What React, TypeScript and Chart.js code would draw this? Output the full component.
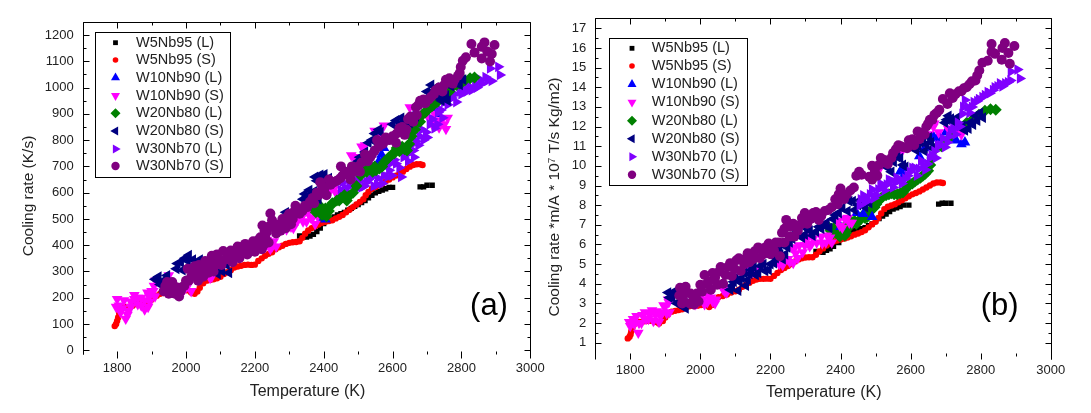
import React, { useEffect, useRef } from "react";
import { Chart, registerables } from "chart.js";
import { drawPoint } from "chart.js/helpers";

Chart.register(...registerables);

type P = [number, number];

const seriesNames = ["W5Nb95 (L)", "W5Nb95 (S)", "W10Nb90 (L)", "W10Nb90 (S)", "W20Nb80 (L)", "W20Nb80 (S)", "W30Nb70 (L)", "W30Nb70 (S)"];
const seriesColors = ["#000000", "#ff0000", "#0000ff", "#ff00ff", "#008000", "#000080", "#8000ff", "#800080"];
const seriesStyles = ["rect", "circle", "triangle", "triangle", "rectRot", "triangle", "triangle", "circle"];
const seriesRotations = [0, 0, 0, 180, 0, 270, 90, 0];
const seriesRadii = [3.8, 3.2, 6.2, 6.2, 6, 6.2, 6.2, 5];
const legendRadii = [3.4, 2.8, 5.2, 5.2, 5, 5.2, 5.2, 4.2];

const xTickValues = [1800, 2000, 2200, 2400, 2600, 2800, 3000];
const yTicksA = [0, 100, 200, 300, 400, 500, 600, 700, 800, 900, 1000, 1100, 1200];
const yTicksB = [1, 2, 3, 4, 5, 6, 7, 8, 9, 10, 11, 12, 13, 14, 15, 16, 17];

// Panel (a): cooling rate (K/s)
const aW5L: P[] = [[2330,435],[2340,432],[2350,431],[2360,435],[2370,441],[2380,452],[2390,465],[2400,482],[2410,492],[2420,500],[2430,508],[2440,515],[2450,520],[2460,525],[2470,533],[2480,540],[2490,548],[2500,555],[2510,562],[2520,570],[2530,580],[2540,590],[2550,599],[2560,605],[2570,610],[2580,615],[2590,620],[2600,620],[2680,622],[2690,622],[2700,628],[2715,628]];
const aW5S: P[] = [[1793,92],[1797,100],[1800,112],[1803,125],[1806,140],[1809,152],[1815,163],[1825,165],[1835,166],[1845,170],[1855,178],[1865,180],[1875,175],[1885,168],[1892,175],[1898,190],[1905,200],[1915,208],[1925,215],[1935,218],[1945,220],[1955,224],[1965,226],[1975,230],[1985,234],[1995,232],[2005,228],[2015,220],[2025,215],[2033,224],[2040,238],[2050,255],[2060,265],[2070,268],[2080,270],[2090,274],[2100,280],[2110,290],[2120,297],[2130,305],[2140,315],[2150,319],[2160,322],[2170,325],[2180,326],[2190,325],[2200,326],[2210,340],[2220,350],[2230,360],[2240,367],[2250,373],[2260,385],[2270,392],[2280,398],[2290,405],[2300,409],[2310,411],[2320,412],[2330,415],[2338,428],[2346,444],[2355,456],[2365,465],[2375,472],[2385,479],[2395,485],[2405,489],[2415,492],[2425,495],[2435,502],[2445,508],[2455,515],[2465,525],[2475,535],[2485,545],[2495,555],[2505,565],[2515,575],[2522,590],[2530,603],[2540,615],[2550,622],[2560,628],[2570,635],[2580,643],[2590,650],[2600,658],[2610,665],[2620,672],[2630,680],[2640,690],[2650,699],[2660,705],[2670,708],[2680,708],[2687,705]];
const aW10L: P[] = [[2395,505],[2405,498],[2560,720],[2570,720],[2568,745],[2575,770],[2568,700],[2640,850],[2650,870],[2660,890],[2723,915],[2730,900],[2651,870]];
const aW10S: P[] = [[1797,165],[1800,195],[1805,170],[1810,145],[1815,160],[1820,190],[1825,120],[1830,135],[1832,150],[1840,185],[1840,165],[1850,195],[1850,210],[1860,200],[1860,175],[1870,170],[1870,200],[1880,190],[1880,155],[1888,220],[1890,165],[1893,205],[1895,185],[1900,225],[1905,225],[1907,245],[1910,205],[1912,265],[1950,285],[1995,232],[2000,240],[2005,245],[2015,225],[2060,300],[2065,290],[2070,275],[2075,280],[2144,350],[2225,400],[2230,395],[2235,420],[2240,400],[2245,385],[2250,395],[2255,415],[2262,395],[2290,480],[2292,460],[2300,495],[2305,470],[2312,465],[2318,490],[2325,495],[2340,515],[2340,490],[2350,490],[2355,525],[2362,505],[2368,505],[2375,480],[2382,510],[2410,600],[2420,610],[2430,615],[2435,600],[2445,595],[2480,742],[2488,735],[2510,775],[2520,780],[2548,835],[2560,820],[2575,855],[2650,925],[2660,880],[2694,905],[2700,920],[2705,885],[2712,885],[2715,860],[2722,900],[2725,875],[2735,848],[2740,870],[2750,860],[2755,842],[2760,885]];
const aW20L: P[] = [[2372,540],[2377,525],[2382,532],[2392,545],[2395,515],[2400,520],[2405,540],[2408,510],[2415,530],[2420,550],[2425,560],[2438,570],[2445,570],[2450,580],[2460,590],[2467,570],[2472,585],[2485,600],[2495,625],[2507,665],[2512,680],[2520,695],[2525,680],[2532,705],[2542,680],[2548,700],[2552,685],[2562,692],[2570,700],[2575,715],[2582,725],[2590,735],[2598,745],[2605,750],[2612,770],[2620,758],[2628,775],[2635,765],[2642,760],[2648,785],[2655,815],[2660,860],[2665,840],[2675,870],[2680,870],[2685,895],[2695,905],[2700,915],[2710,925],[2715,930],[2722,940],[2730,945],[2738,960],[2745,965],[2757,1000],[2765,985],[2775,1005],[2785,1010],[2795,1015],[2802,1020],[2810,1028],[2825,1035],[2838,1038]];
const aW20S: P[] = [[1910,270],[1918,265],[1920,280],[1925,250],[1930,262],[1945,285],[1972,310],[1975,330],[1985,335],[1990,305],[1997,350],[2005,340],[2008,362],[2020,345],[2020,310],[2032,320],[2040,345],[2062,330],[2075,345],[2092,290],[2100,310],[2105,300],[2118,325],[2125,295],[2132,345],[2160,375],[2250,465],[2290,525],[2340,575],[2345,595],[2352,585],[2358,610],[2365,590],[2372,605],[2385,575],[2375,660],[2380,645],[2390,668],[2395,650],[2402,670],[2408,635],[2415,655],[2422,640],[2500,720],[2505,735],[2520,755],[2530,790],[2540,800],[2548,825],[2560,840],[2565,830],[2575,800],[2585,805],[2600,860],[2610,875],[2615,850],[2625,885],[2630,870],[2640,860],[2650,865],[2660,885],[2668,890],[2700,985],[2708,980],[2712,1010],[2725,1000],[2735,960],[2742,950],[2748,965],[2755,970],[2760,950],[2770,1005],[2782,1020],[2790,1025],[2795,1010],[2805,1030]];
const aW30L: P[] = [[2450,610],[2455,640],[2462,620],[2472,600],[2475,625],[2482,640],[2490,650],[2495,615],[2505,645],[2510,620],[2518,625],[2525,640],[2530,650],[2540,660],[2545,625],[2555,630],[2558,655],[2570,635],[2575,665],[2585,660],[2590,685],[2598,665],[2592,710],[2605,725],[2610,710],[2620,695],[2625,660],[2632,735],[2640,745],[2645,720],[2652,780],[2660,760],[2662,735],[2668,795],[2675,780],[2678,815],[2685,840],[2690,800],[2697,830],[2700,810],[2708,860],[2715,880],[2722,845],[2730,860],[2732,905],[2740,915],[2745,885],[2750,945],[2760,935],[2765,960],[2772,960],[2780,975],[2785,945],[2795,985],[2800,975],[2810,1000],[2815,985],[2822,1005],[2830,990],[2840,1015],[2845,1000],[2855,1030],[2860,1015],[2870,1040],[2875,1025],[2888,1025],[2883,1073],[2907,1079],[2912,1048]];
const aW30S: P[] = [[1935,225],[1940,245],[1945,260],[1950,215],[1955,235],[1960,260],[1968,215],[1972,240],[1980,205],[1985,225],[1988,240],[1995,245],[2000,265],[2005,310],[2008,265],[2015,280],[2018,305],[2025,320],[2030,295],[2035,265],[2038,325],[2045,300],[2050,280],[2056,340],[2060,320],[2065,295],[2070,340],[2075,360],[2080,300],[2085,325],[2090,365],[2098,345],[2103,325],[2108,378],[2113,345],[2120,350],[2125,365],[2130,380],[2135,335],[2140,355],[2145,375],[2150,395],[2155,350],[2160,375],[2165,395],[2172,405],[2178,365],[2185,385],[2190,400],[2195,415],[2200,375],[2205,390],[2210,420],[2216,430],[2220,385],[2225,400],[2228,455],[2230,430],[2235,450],[2240,410],[2240,470],[2222,475],[2245,521],[2250,495],[2252,470],[2262,445],[2265,460],[2272,480],[2275,455],[2280,500],[2285,485],[2290,465],[2295,510],[2300,520],[2305,480],[2310,500],[2312,525],[2318,550],[2325,535],[2330,520],[2338,530],[2345,550],[2352,545],[2360,565],[2368,580],[2372,560],[2380,600],[2385,590],[2390,640],[2395,625],[2402,615],[2408,590],[2415,650],[2420,630],[2430,640],[2438,645],[2448,655],[2450,700],[2455,665],[2462,680],[2470,675],[2478,650],[2482,700],[2490,680],[2500,700],[2505,680],[2510,715],[2520,745],[2528,720],[2535,735],[2540,745],[2548,760],[2555,800],[2560,775],[2572,785],[2580,810],[2590,800],[2600,815],[2610,790],[2612,825],[2620,845],[2628,850],[2635,820],[2640,840],[2645,880],[2652,890],[2660,870],[2668,925],[2670,895],[2676,935],[2680,950],[2690,955],[2695,940],[2705,955],[2712,965],[2720,975],[2725,990],[2735,1000],[2745,985],[2750,1010],[2755,1030],[2765,1035],[2775,1015],[2780,1030],[2790,1045],[2795,1055],[2798,1078],[2804,1102],[2813,1115],[2829,1166],[2838,1133],[2859,1155],[2867,1172],[2875,1137],[2888,1128],[2859,1111],[2883,1099],[2896,1162]];

// Panel (b): cooling rate * m/A * 10^7 T/s Kg/m2
const bW5L: P[] = [[2330,5.65],[2340,5.62],[2350,5.6],[2360,5.7],[2370,5.78],[2380,5.9],[2395,6.1],[2410,6.3],[2420,6.45],[2430,6.6],[2440,6.7],[2450,6.75],[2460,6.8],[2470,6.85],[2480,6.95],[2490,7.05],[2500,7.2],[2510,7.32],[2520,7.45],[2530,7.55],[2540,7.68],[2550,7.8],[2560,7.87],[2570,7.93],[2580,8.0],[2595,8.0],[2680,8.05],[2690,8.1],[2700,8.1],[2715,8.1]];
const bW5S: P[] = [[1793,1.22],[1798,1.3],[1801,1.42],[1803,1.58],[1806,1.75],[1810,1.92],[1816,2.03],[1826,2.05],[1836,2.08],[1846,2.1],[1858,2.12],[1870,2.05],[1882,1.98],[1893,2.1],[1900,2.28],[1908,2.45],[1918,2.58],[1928,2.62],[1938,2.66],[1948,2.7],[1958,2.77],[1968,2.85],[1980,2.87],[1992,2.88],[2002,2.92],[2012,2.92],[2025,2.82],[2033,2.92],[2042,3.15],[2052,3.32],[2064,3.38],[2076,3.45],[2088,3.55],[2100,3.62],[2110,3.7],[2120,3.85],[2130,3.95],[2140,4.05],[2150,4.15],[2160,4.22],[2170,4.25],[2180,4.25],[2190,4.26],[2200,4.25],[2210,4.4],[2220,4.55],[2230,4.7],[2240,4.8],[2250,4.9],[2260,5.0],[2270,5.13],[2280,5.24],[2290,5.3],[2300,5.34],[2310,5.35],[2320,5.35],[2330,5.48],[2340,5.65],[2350,5.8],[2360,5.95],[2370,6.05],[2380,6.15],[2390,6.2],[2400,6.25],[2410,6.3],[2420,6.35],[2430,6.42],[2440,6.5],[2450,6.56],[2460,6.63],[2470,6.72],[2480,6.87],[2490,7.02],[2500,7.15],[2508,7.35],[2516,7.58],[2525,7.8],[2535,7.92],[2545,7.98],[2555,8.05],[2565,8.15],[2575,8.25],[2585,8.35],[2595,8.45],[2605,8.55],[2615,8.62],[2625,8.7],[2635,8.8],[2645,8.9],[2655,9.0],[2665,9.1],[2675,9.15],[2685,9.15],[2692,9.13]];
const bW10L: P[] = [[2400,6.9],[2446,7.6],[2465,7.55],[2490,7.4],[2570,9.7],[2580,9.5],[2577,9.9],[2625,10.5],[2640,10.9],[2665,11.5],[2675,11.4],[2700,11.7],[2730,11.3],[2745,11.1],[2755,11.2]];
const bW10S: P[] = [[1797,2.05],[1800,1.85],[1808,2.2],[1812,1.95],[1818,2.35],[1823,1.5],[1825,2.0],[1832,2.0],[1835,2.4],[1842,2.55],[1845,2.2],[1852,2.2],[1855,2.45],[1862,2.65],[1866,2.1],[1872,2.4],[1876,2.6],[1882,2.05],[1886,2.35],[1892,2.55],[1895,2.9],[1900,2.85],[1904,2.5],[1908,3.2],[1910,3.05],[1912,2.55],[1955,2.9],[1985,2.95],[1990,3.0],[1997,3.4],[2000,3.3],[2008,3.2],[2012,2.95],[2020,3.05],[2022,3.4],[2030,3.3],[2035,3.1],[2042,3.0],[2045,3.2],[2065,3.7],[2070,3.6],[2075,3.55],[2135,4.85],[2150,4.6],[2170,4.8],[2222,5.2],[2225,5.0],[2235,4.95],[2240,5.2],[2250,5.25],[2255,5.1],[2265,5.05],[2260,5.85],[2268,5.8],[2272,5.55],[2278,5.3],[2282,5.95],[2292,5.6],[2298,5.95],[2300,6.2],[2308,6.4],[2312,5.9],[2318,6.05],[2322,6.3],[2332,6.1],[2345,6.4],[2348,6.05],[2358,6.1],[2362,6.45],[2370,6.35],[2375,6.1],[2393,7.2],[2398,6.95],[2405,6.85],[2412,7.3],[2420,7.35],[2425,7.1],[2432,7.1],[2513,9.9],[2556,10.7],[2572,10.65],[2650,11.6],[2668,12.15],[2680,11.7],[2665,12],[2707,11.9],[2745,11.6],[2735,11.8]];
const bW20L: P[] = [[2368,6.85],[2372,6.7],[2378,6.55],[2382,6.85],[2388,6.65],[2392,6.55],[2398,6.4],[2402,6.75],[2408,6.85],[2412,6.45],[2416,6.6],[2420,6.9],[2428,6.95],[2432,7.15],[2440,7.2],[2445,7.05],[2452,7.2],[2458,7.3],[2465,7.5],[2470,7.35],[2476,7.4],[2480,7.6],[2485,7.7],[2490,7.8],[2497,7.9],[2502,8.05],[2508,8.2],[2515,8.35],[2522,8.45],[2530,8.5],[2538,8.55],[2545,8.6],[2553,8.55],[2562,8.55],[2570,8.6],[2578,8.65],[2585,8.8],[2592,8.95],[2598,9.05],[2605,9.1],[2612,9.2],[2620,9.3],[2628,9.4],[2635,9.5],[2642,9.6],[2650,9.75],[2656,10.05],[2662,10.4],[2672,10.9],[2688,11],[2705,11.3],[2720,11.55],[2740,11.85],[2760,12.2],[2779,12.4],[2795,12.6],[2812,12.8],[2828,12.88],[2843,12.85]];
const bW20S: P[] = [[1908,3.55],[1912,3.3],[1920,3.3],[1925,3.6],[1933,3.0],[1940,3.1],[1948,2.85],[1955,3.0],[1958,2.75],[2085,3.7],[2090,3.9],[2095,4.1],[2100,4.3],[2108,3.65],[2112,4.1],[2118,4.3],[2125,4.55],[2130,3.9],[2135,4.2],[2140,4.5],[2145,4.7],[2152,4.85],[2158,4.45],[2165,4.55],[2172,4.9],[2180,5.0],[2185,4.65],[2195,4.7],[2200,5.0],[2210,5.05],[2215,5.3],[2225,5.75],[2228,5.5],[2235,5.25],[2242,5.5],[2248,5.85],[2255,6.1],[2262,6.3],[2268,6.55],[2275,6.75],[2282,6.55],[2290,6.35],[2298,6.5],[2305,6.8],[2312,6.7],[2320,6.45],[2330,6.65],[2338,6.9],[2345,6.8],[2352,7.0],[2360,7.1],[2368,6.85],[2378,7.3],[2385,7.5],[2395,7.6],[2405,7.85],[2420,7.7],[2425,8.2],[2435,8.2],[2440,7.75],[2450,8.0],[2455,8.25],[2465,8.2],[2470,7.9],[2482,8.1],[2530,10.1],[2535,9.9],[2545,9.7],[2552,10.2],[2562,10.45],[2570,10.4],[2578,10.05],[2585,9.95],[2615,10.8],[2622,11.0],[2628,11.2],[2635,11.4],[2640,10.75],[2645,11.1],[2652,11.45],[2658,11.2],[2662,10.9],[2698,12.2],[2703,12.35],[2708,12.55],[2715,12.4],[2720,12.25],[2728,12.2],[2732,12.45],[2740,12.0],[2748,12.05],[2755,11.8],[2765,11.9],[2770,12.2],[2778,12.1],[2785,12.55],[2790,12.3],[2798,12.7],[2806,12.45]];
const bW30L: P[] = [[2455,8.0],[2458,8.3],[2465,8.5],[2470,8.15],[2478,8.25],[2484,8.55],[2490,8.8],[2495,8.35],[2502,8.5],[2508,8.8],[2514,9.1],[2520,8.95],[2526,8.75],[2532,9.05],[2538,9.3],[2545,9.25],[2550,8.9],[2556,9.15],[2560,9.4],[2570,9.3],[2575,9.1],[2585,9.35],[2592,9.5],[2598,9.7],[2605,9.9],[2612,9.9],[2618,9.5],[2624,9.85],[2630,10.25],[2636,10.05],[2642,9.8],[2648,10.1],[2655,10.4],[2660,10.55],[2668,10.75],[2672,10.4],[2678,11.05],[2685,11.05],[2692,11.4],[2698,10.95],[2705,11.2],[2710,11.5],[2715,11.8],[2722,11.9],[2728,11.6],[2735,12.2],[2740,12.0],[2748,12.65],[2750,13.0],[2755,13.35],[2762,13.0],[2768,12.7],[2775,13.0],[2780,13.25],[2790,13.3],[2795,13.4],[2805,13.5],[2812,13.6],[2820,13.75],[2826,13.7],[2835,13.85],[2840,14.0],[2848,14.05],[2855,14.2],[2862,14.05],[2870,14.2],[2878,14.25],[2885,14.35],[2886,14.8],[2905,14.9],[2912,14.45]];
const bW30S: P[] = [[1940,3.4],[1942,3.8],[1948,3.0],[1950,3.3],[1958,3.85],[1960,3.55],[1970,3.0],[1972,3.5],[1980,3.3],[1982,2.95],[1990,3.5],[1995,3.1],[2000,3.95],[2005,3.6],[2012,4.45],[2018,4.0],[2024,4.1],[2030,3.7],[2035,4.55],[2042,4.3],[2048,3.95],[2052,4.6],[2058,4.85],[2065,4.0],[2072,4.45],[2078,4.85],[2085,5.05],[2090,4.4],[2098,4.75],[2103,5.2],[2110,5.3],[2115,4.65],[2125,5.0],[2130,5.3],[2135,5.55],[2140,5.1],[2150,5.25],[2155,5.65],[2165,5.85],[2170,5.3],[2180,5.5],[2185,5.85],[2195,6.05],[2200,5.5],[2210,5.7],[2215,6.1],[2225,6.1],[2227,5.4],[2233,6.6],[2240,6.1],[2240,6.8],[2245,7.25],[2255,6.4],[2258,6.9],[2265,7.05],[2268,6.4],[2278,6.7],[2285,7.0],[2290,7.35],[2298,7.6],[2305,7.05],[2315,7.3],[2322,7.6],[2330,7.65],[2338,7.25],[2345,7.45],[2355,7.7],[2365,7.75],[2375,7.9],[2385,8.3],[2392,8.05],[2395,8.55],[2400,8.85],[2410,8.3],[2418,8.55],[2428,8.75],[2438,8.9],[2445,9.5],[2453,9.7],[2460,9.55],[2482,9.45],[2490,9.3],[2490,10.0],[2498,9.75],[2505,9.5],[2510,10.05],[2515,10.4],[2525,10.3],[2535,10.1],[2545,10.4],[2550,10.65],[2558,10.85],[2565,11.05],[2572,11.0],[2580,10.95],[2590,10.9],[2595,11.3],[2605,11.35],[2610,11.05],[2620,11.75],[2625,11.35],[2632,11.7],[2640,11.6],[2645,12.0],[2650,12.15],[2655,12.35],[2662,12.35],[2668,12.6],[2675,12.7],[2682,12.85],[2692,13.4],[2705,13.15],[2712,13.7],[2720,13.45],[2728,13.65],[2738,13.8],[2745,13.8],[2752,13.95],[2760,14.0],[2768,14.15],[2775,14.3],[2785,14.35],[2790,14.6],[2796,14.85],[2805,15.25],[2820,15.35],[2831,16.2],[2831,15.8],[2841,15.7],[2862,16.0],[2869,16.25],[2879,15.75],[2896,16.1],[2860,15.4],[2883,15.2]];

const panelAData = [aW5L, aW5S, aW10L, aW10S, aW20L, aW20S, aW30L, aW30S];
const panelBData = [bW5L, bW5S, bW10L, bW10S, bW20L, bW20S, bW30L, bW30S];

const FONT = '"Liberation Sans", Arial, sans-serif';
const INK = "#222222";

type Panel = {
  left: number; width: number; height: number;
  areaL: number; areaR: number; areaT: number; areaB: number;
  frameB: number; tickEnd: number;
  yMin: number; yMax: number; yTicks: number[]; yMinorStep: number;
  data: P[][];
  stack: number[];
  yTitle: string; yTitleX: number; yTitleY: number;
  xTitle: string; xTitleX: number; xTitleY: number;
  tag: string; tagX: number; tagY: number;
  legend: { l: number; r: number; t: number; b: number; mx: number; tx: number; rows: number[] };
};

const panels: Panel[] = [
  {
    left: 0, width: 560, height: 413,
    areaL: 82.7, areaR: 530.3, areaT: 21.7, areaB: 351, frameB: 354, tickEnd: 358,
    yMin: -2.7, yMax: 1250.7, yTicks: yTicksA, yMinorStep: 50,
    data: panelAData,
    stack: [0, 1, 2, 3, 5, 6, 4, 7],
    yTitle: "Cooling rate (K/s)", yTitleX: 29, yTitleY: 196,
    xTitle: "Temperature (K)", xTitleX: 307.5, xTitleY: 392,
    tag: "(a)", tagX: 489, tagY: 306,
    legend: { l: 94.7, r: 229.5, t: 31.5, b: 176, mx: 115.5, tx: 136, rows: [42.7, 60, 77.7, 95.7, 113.3, 131, 149, 166] },
  },
  {
    left: 540, width: 551, height: 413,
    areaL: 55.2, areaR: 510.8, areaT: 18.3, areaB: 353, frameB: 359, tickEnd: 359,
    yMin: 0.476, yMax: 17.51, yTicks: yTicksB, yMinorStep: 0.5,
    data: panelBData,
    stack: [0, 1, 3, 4, 2, 5, 6, 7],
    yTitle: "Cooling rate *m/A * 10\u2077 T/s Kg/m2)", yTitleX: 15, yTitleY: 197,
    xTitle: "Temperature (K)", xTitleX: 283.7, xTitleY: 393,
    tag: "(b)", tagX: 459.6, tagY: 306,
    legend: { l: 69, r: 207.3, t: 37.5, b: 184, mx: 92, tx: 111.7, rows: [48.3, 66, 84.3, 102.3, 120.7, 138.7, 156.7, 174.7] },
  },
];

function makeChart(canvas: HTMLCanvasElement, p: Panel) {
  const framePlugin = {
    id: "originFrame",
    afterDraw(chart: any) {
      const ctx = chart.ctx;
      const xs = chart.scales.x;
      const ys = chart.scales.y;
      const { left: L, right: R, top: T, bottom: B } = chart.chartArea;
      ctx.save();
      ctx.strokeStyle = "#000";
      ctx.lineWidth = 1;
      const seg = (x1: number, y1: number, x2: number, y2: number) => {
        ctx.beginPath();
        ctx.moveTo(Math.round(x1) + 0.5, Math.round(y1) + 0.5);
        ctx.lineTo(Math.round(x2) + 0.5, Math.round(y2) + 0.5);
        ctx.stroke();
      };
      seg(L, T, R, T);
      seg(L, T, L, p.frameB);
      seg(R, T, R, p.frameB);
      for (const v of xTickValues) {
        const px = xs.getPixelForValue(v);
        seg(px, T, px, T + 6);
        seg(px, B, px, p.tickEnd);
        const pm = xs.getPixelForValue(v - 100);
        seg(pm, T, pm, T + 3);
        seg(pm, B, pm, B + 3);
      }
      for (const v of p.yTicks) {
        const py = ys.getPixelForValue(v);
        seg(L, py, L + 6, py);
        seg(R - 6, py, R, py);
        const m = v + p.yMinorStep;
        if (m <= p.yMax) {
          const pm = ys.getPixelForValue(m);
          seg(L, pm, L + 3, pm);
          seg(R - 3, pm, R, pm);
        }
      }
      ctx.restore();
    },
  };

  const notesPlugin = {
    id: "panelNotes",
    afterDraw(chart: any) {
      const ctx = chart.ctx;
      const lg = p.legend;
      ctx.save();
      ctx.fillStyle = "#fff";
      ctx.fillRect(lg.l, lg.t, lg.r - lg.l, lg.b - lg.t);
      ctx.strokeStyle = "#000";
      ctx.lineWidth = 1;
      ctx.strokeRect(Math.round(lg.l) + 0.5, Math.round(lg.t) + 0.5, Math.round(lg.r - lg.l), Math.round(lg.b - lg.t));
      ctx.textBaseline = "middle";
      ctx.textAlign = "left";
      chart.data.datasets.forEach((ds: any, i: number) => {
        ctx.fillStyle = ds.backgroundColor;
        ctx.strokeStyle = ds.backgroundColor;
        drawPoint(ctx, { pointStyle: ds.pointStyle, rotation: ds.pointRotation, radius: legendRadii[i], borderWidth: 0 }, lg.mx, lg.rows[i]);
        ctx.fillStyle = INK;
        ctx.font = `14.5px ${FONT}`;
        ctx.fillText(ds.label, lg.tx, lg.rows[i]);
      });
      ctx.textAlign = "center";
      ctx.fillStyle = "#000";
      ctx.font = `31px ${FONT}`;
      ctx.fillText(p.tag, p.tagX, p.tagY);
      ctx.fillStyle = INK;
      ctx.font = `16px ${FONT}`;
      ctx.fillText(p.xTitle, p.xTitleX, p.xTitleY);
      ctx.translate(p.yTitleX, p.yTitleY);
      ctx.rotate(-Math.PI / 2);
      ctx.font = `15.5px ${FONT}`;
      ctx.fillText(p.yTitle, 0, 0);
      ctx.restore();
    },
  };

  return new Chart(canvas, {
    type: "scatter",
    data: {
      datasets: p.data.map((pts, i) => ({
        label: seriesNames[i],
        data: pts.map(([x, y]) => ({ x, y })),
        backgroundColor: seriesColors[i],
        borderColor: seriesColors[i],
        borderWidth: 0,
        pointStyle: seriesStyles[i],
        pointRotation: seriesRotations[i],
        pointRadius: seriesRadii[i],
        order: seriesNames.length - p.stack[i],
      })),
    },
    options: {
      responsive: false,
      animation: false,
      layout: { padding: { left: 0, top: p.areaT, right: p.width - p.areaR, bottom: 0 } },
      plugins: { legend: { display: false }, title: { display: false }, tooltip: { enabled: false } },
      scales: {
        x: {
          type: "linear",
          min: 1700,
          max: 3000,
          grid: { display: false, drawTicks: false },
          border: { display: false },
          afterBuildTicks: (s: any) => { s.ticks = xTickValues.map((value) => ({ value })); },
          afterFit: (s: any) => { s.height = p.height - p.areaB; },
          ticks: { color: INK, font: { family: FONT, size: 13 }, padding: 10, maxRotation: 0, autoSkip: false, callback: (v: any) => String(v) },
        },
        y: {
          type: "linear",
          min: p.yMin,
          max: p.yMax,
          grid: { display: false, drawTicks: false },
          border: { display: false },
          afterBuildTicks: (s: any) => { s.ticks = p.yTicks.map((value) => ({ value })); },
          afterFit: (s: any) => { s.width = p.areaL; },
          ticks: { color: INK, font: { family: FONT, size: 13 }, padding: 9, autoSkip: false, callback: (v: any) => String(v) },
        },
      },
    },
    plugins: [framePlugin, notesPlugin],
  } as any);
}

export default function App() {
  const refs = [useRef<HTMLCanvasElement>(null), useRef<HTMLCanvasElement>(null)];
  useEffect(() => {
    const charts = panels.map((p, i) => makeChart(refs[i].current as HTMLCanvasElement, p));
    return () => charts.forEach((c) => c.destroy());
  }, []);
  return (
    <div style={{ position: "absolute", left: 0, top: 0, width: 1091, height: 413, background: "#fff", overflow: "hidden" }}>
      {panels.map((p, i) => (
        <canvas
          key={p.tag}
          ref={refs[i]}
          width={p.width}
          height={p.height}
          style={{ position: "absolute", left: p.left, top: 0, width: p.width, height: p.height }}
        />
      ))}
    </div>
  );
}
